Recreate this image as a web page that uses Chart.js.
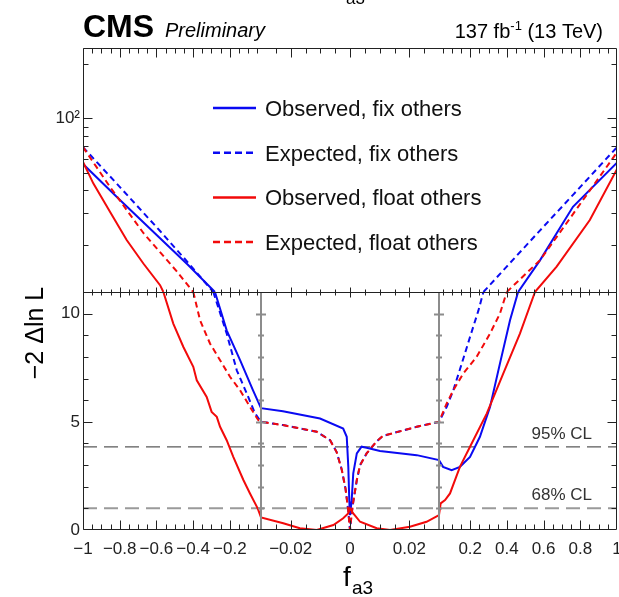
<!DOCTYPE html>
<html>
<head>
<meta charset="utf-8">
<script src="https://cdn.jsdelivr.net/npm/chart.js@4.4.1/dist/chart.umd.min.js"></script>
<style>
  html, body { margin: 0; padding: 0; background: #fff; }
  #wrap { position: relative; width: 619px; height: 597px; }
</style>
</head>
<body>
<div id="wrap"><canvas id="nll"></canvas></div>
<script>
// -2 Delta ln L scan versus f_a3, split x axis and split y axis

// Observed, fix others
const obsFixX = [-1, -0.8, -0.58, -0.43, -0.281, -0.217, -0.144, -0.074, -0.03,
  -0.0226, -0.0101, -0.0023, -0.0011, -0.00057, -0.00024, 0, 0.00057, 0.0011, 0.0023, 0.0039, 0.0056, 0.0101, 0.0225, 0.03,
  0.052, 0.099, 0.144, 0.199, 0.253, 0.308, 0.362, 0.417, 0.461, 0.581, 0.76, 1];
const obsFixY = [56, 35.6, 21.8, 15.6, 11, 9.23, 7.85, 6.46, 5.63,
  5.49, 5.15, 4.69, 4.31, 2.92, 1.38, 0.69, 1.38, 2.62, 3.54, 3.85, 3.8, 3.65, 3.46, 3.23,
  2.92, 2.77, 2.92, 3.38, 4.31, 5.69, 7.69, 9.69, 11, 16.5, 32.5, 57];

// Expected, fix others
const expFixX = [-1, -0.8, -0.58, -0.43, -0.29, -0.217, -0.162, -0.108, -0.063, -0.03,
  -0.0226, -0.0112, -0.0067, -0.0045, -0.0028, -0.0015, -0.0006, 0, 0.0006, 0.0011, 0.0023, 0.0034, 0.0056, 0.009, 0.0111, 0.0225, 0.03,
  0.072, 0.108, 0.154, 0.199, 0.245, 0.272, 0.399, 0.581, 0.763, 1];
const expFixY = [69.4, 41.9, 23.9, 16.1, 11, 9.08, 7.38, 6.32, 5.4, 5.0,
  4.85, 4.54, 4.15, 3.6, 2.8, 1.9, 0.9, 0, 0.8, 1.3, 2.31, 3.0, 3.54, 4.1, 4.35, 4.77, 5.0,
  5.69, 6.46, 7.69, 8.92, 10.15, 11, 15.2, 24.1, 38.1, 69.4];

// Observed, float others
const obsFloatX = [-1, -0.944, -0.853, -0.762, -0.671, -0.58, -0.562, -0.508, -0.453, -0.399, -0.38, -0.326, -0.299, -0.271,
  -0.253, -0.217, -0.181, -0.126, -0.09, -0.053, -0.046, -0.03,
  -0.0225, -0.0169, -0.0112, -0.0056, -0.0023, -0.0006, 0, 0.0011, 0.0034, 0.009, 0.0135, 0.0202, 0.0258, 0.03,
  0.039, 0.063, 0.09, 0.144, 0.199, 0.29, 0.38, 0.471, 0.553, 0.671, 0.852, 1];
const obsFloatY = [57.6, 43.8, 30.5, 21.3, 15.8, 12.0, 11, 9.54, 8.46, 7.54, 6.92, 6.15, 5.46, 5.23,
  4.77, 4.15, 3.38, 2.31, 1.69, 1.08, 0.95, 0.58,
  0.31, 0.08, 0, 0.23, 0.54, 0.77, 1.0, 0.77, 0.38, 0.08, 0, 0.15, 0.38, 0.69,
  1.23, 1.38, 1.69, 2.92, 3.85, 5.38, 7.23, 9.08, 11, 15.2, 27.5, 52.5];

// Expected, float others
const expFloatX = [-1, -0.853, -0.671, -0.489, -0.399, -0.362, -0.308, -0.253, -0.199, -0.144, -0.09, -0.045, -0.03,
  -0.0226, -0.0112, -0.0067, -0.0045, -0.0028, -0.0015, -0.0006, 0, 0.0006, 0.0011, 0.0023, 0.0034, 0.0056, 0.009, 0.0111, 0.0225, 0.03,
  0.072, 0.108, 0.162, 0.235, 0.308, 0.362, 0.399, 0.581, 0.763, 1];
const expFloatY = [69.4, 41.9, 23.3, 14.3, 11, 9.69, 8.62, 7.85, 7.08, 6.46, 5.69, 5.08, 5.0,
  4.85, 4.54, 4.15, 3.6, 2.8, 1.9, 0.9, 0, 0.8, 1.3, 2.31, 3.0, 3.54, 4.1, 4.35, 4.77, 5.0,
  5.85, 6.46, 7.23, 8.0, 9.08, 10.0, 11, 16.5, 29.9, 65];

const clLevels = [3.84, 1.0];
const clLabels = ['95% CL', '68% CL'];

const xTicks = [-1, -0.8, -0.6, -0.4, -0.2, -0.02, 0, 0.02, 0.2, 0.4, 0.6, 0.8, 1];
const yTicks = [0, 5, 10];
const yLogTicks = [100];

const SPLIT = 11;     // linear panel below, log panel above
const Y_TOP = 245;
const FONT = "'Liberation Sans', Arial, Helvetica, sans-serif";

// x axis made of three equal pieces: [-1,-0.03], [-0.03,0.03], [0.03,1]
function toUnit(v) {
  if (v < -0.03) return (v + 1) / 0.97;
  if (v <= 0.03) return 1 + (v + 0.03) / 0.06;
  return 2 + (v - 0.03) / 0.97;
}
function fromUnit(u) {
  if (u < 1) return -1 + u * 0.97;
  if (u <= 2) return -0.03 + (u - 1) * 0.06;
  return 0.03 + (u - 2) * 0.97;
}

class PiecewiseScale extends Chart.LinearScale {
  getPixelForValue(value) {
    return this.getPixelForDecimal(toUnit(value) / 3);
  }
  getValueForPixel(pixel) {
    return fromUnit(this.getDecimalForPixel(pixel) * 3);
  }
}
PiecewiseScale.id = 'piecewise';
PiecewiseScale.defaults = Chart.LinearScale.defaults;
Chart.register(PiecewiseScale);

function half(xs, ys, upper) {
  return xs.map(function(x, i) {
    const y = ys[i];
    const keep = upper ? y >= SPLIT : y <= SPLIT;
    return { x: x, y: keep ? y : null };
  });
}

const curves = [
  { label: 'Observed, fix others', xs: obsFixX, ys: obsFixY, color: '#0a0af2', dash: [] },
  { label: 'Expected, fix others', xs: expFixX, ys: expFixY, color: '#0a0af2', dash: [6, 4] },
  { label: 'Observed, float others', xs: obsFloatX, ys: obsFloatY, color: '#f20a0a', dash: [] },
  { label: 'Expected, float others', xs: expFloatX, ys: expFloatY, color: '#f20a0a', dash: [6, 4] }
];

const datasets = [];
curves.slice().reverse().forEach(function(c) {
  const rank = curves.indexOf(c);
  [false, true].forEach(function(upper) {
    datasets.push({
      label: c.label,
      data: half(c.xs, c.ys, upper),
      yAxisID: upper ? 'yLog' : 'y',
      borderColor: c.color,
      borderDash: c.dash,
      borderWidth: 2,
      pointRadius: 0,
      tension: 0,
      spanGaps: false,
      inLegend: !upper,
      rank: rank
    });
  });
});
clLevels.forEach(function(lvl, i) {
  datasets.push({
    label: clLabels[i],
    data: [{ x: -1, y: lvl }, { x: 1, y: lvl }],
    yAxisID: 'y',
    borderColor: i === 0 ? '#5a5a5a' : '#9a9a9a',
    borderWidth: i === 0 ? 1.3 : 2,
    borderDash: [14, 7],
    pointRadius: 0
  });
});

function minus(s) { return String(s).replace('-', '\u2212'); }

const decorations = {
  id: 'decorations',
  afterDraw(chart) {
    const ctx = chart.ctx;
    const a = chart.chartArea;
    const xs = chart.scales.x, yl = chart.scales.y, yg = chart.scales.yLog;
    const mid = Math.round(yl.top) + 0.5;
    const L = Math.round(a.left) + 0.5, R = Math.round(a.right) - 0.5;
    const T = Math.round(a.top) + 0.5, B = Math.round(a.bottom) - 0.5;
    ctx.save();

    // separators of the lower panel
    ctx.strokeStyle = '#8c8c8c';
    ctx.lineWidth = 2;
    ctx.beginPath();
    [-0.03, 0.03].forEach(function(v) {
      const px = Math.round(xs.getPixelForValue(v));
      ctx.moveTo(px, mid); ctx.lineTo(px, B);
      for (let k = 1; k <= 10; k++) {
        const py = Math.round(yl.getPixelForValue(k)) + 0.5;
        const len = k % 5 === 0 ? 5 : 3;
        ctx.moveTo(px - len, py); ctx.lineTo(px + len, py);
      }
    });
    ctx.stroke();

    // frame
    ctx.strokeStyle = '#222';
    ctx.lineWidth = 1;
    ctx.beginPath();
    ctx.rect(L, T, R - L, B - T);
    ctx.moveTo(L, mid); ctx.lineTo(R, mid);

    // x ticks
    const xt = [];
    for (let k = 0; k < 20; k++) xt.push([-1 + k * 0.05, k % 4 === 0]);
    for (let m = -5; m <= 5; m++) xt.push([m * 0.005, m % 4 === 0]);
    for (let k = 1; k < 20; k++) xt.push([k * 0.05, k % 4 === 0]);
    xt.forEach(function(t) {
      const px = Math.round(xs.getPixelForValue(t[0])) + 0.5;
      const len = t[1] ? 9 : 5;
      ctx.moveTo(px, B); ctx.lineTo(px, B - len);
      ctx.moveTo(px, T); ctx.lineTo(px, T + len);
      const h = t[1] ? 5 : 3;
      ctx.moveTo(px, mid - h); ctx.lineTo(px, mid + h);
    });

    // y ticks, lower linear panel
    for (let k = 1; k <= 10; k++) {
      const py = Math.round(yl.getPixelForValue(k)) + 0.5;
      const len = k % 5 === 0 ? 9 : 5;
      ctx.moveTo(L, py); ctx.lineTo(L + len, py);
      ctx.moveTo(R, py); ctx.lineTo(R - len, py);
    }
    // y ticks, upper log panel
    [20, 30, 40, 50, 60, 70, 80, 90, 100, 200].forEach(function(v) {
      const py = Math.round(yg.getPixelForValue(v)) + 0.5;
      const len = v === 100 ? 9 : 5;
      ctx.moveTo(L, py); ctx.lineTo(L + len, py);
      ctx.moveTo(R, py); ctx.lineTo(R - len, py);
    });
    ctx.stroke();

    // CL labels
    ctx.fillStyle = '#333';
    ctx.font = '17px ' + FONT;
    ctx.textAlign = 'right';
    ctx.textBaseline = 'alphabetic';
    clLevels.forEach(function(lvl, i) {
      ctx.fillText(clLabels[i], 592, yl.getPixelForValue(lvl) - 8);
    });

    // legend
    const items = chart.data.datasets.filter(function(d) { return d.inLegend; })
      .sort(function(p, q) { return p.rank - q.rank; });
    ctx.textAlign = 'left';
    ctx.textBaseline = 'middle';
    ctx.font = '22px ' + FONT;
    items.forEach(function(d, i) {
      const y = 108 + i * 44.7;
      ctx.strokeStyle = d.borderColor;
      ctx.lineWidth = 2.5;
      ctx.setLineDash(d.borderDash.length ? [7, 4] : []);
      ctx.beginPath(); ctx.moveTo(213, y); ctx.lineTo(256, y); ctx.stroke();
      ctx.setLineDash([]);
      ctx.fillStyle = '#111';
      ctx.fillText(d.label, 265, y + 2);
    });

    // header
    ctx.fillStyle = '#000';
    ctx.textBaseline = 'alphabetic';
    ctx.font = 'bold 32px ' + FONT;
    ctx.fillText('CMS', 83, 37);
    ctx.font = 'italic 20px ' + FONT;
    ctx.fillText('Preliminary', 165, 37);
    ctx.font = '17px ' + FONT;
    ctx.fillText('a3', 346, 4);

    ctx.textAlign = 'right';
    ctx.font = '20px ' + FONT;
    const tail = ' (13 TeV)';
    let x = 603;
    ctx.fillText(tail, x, 38);
    x -= ctx.measureText(tail).width;
    ctx.font = '13px ' + FONT;
    ctx.fillText('-1', x, 30);
    x -= ctx.measureText('-1').width;
    ctx.font = '20px ' + FONT;
    ctx.fillText('137 fb', x, 38);

    // axis titles
    ctx.textAlign = 'left';
    ctx.font = '28px ' + FONT;
    ctx.fillText('f', 343, 586);
    ctx.font = '19px ' + FONT;
    ctx.fillText('a3', 352, 594);

    ctx.translate(36, 333);
    ctx.rotate(-Math.PI / 2);
    ctx.textAlign = 'center';
    ctx.textBaseline = 'middle';
    ctx.font = '25px ' + FONT;
    ctx.fillText('\u22122 \u0394ln L', 0, 0);
    ctx.restore();
  }
};

Chart.defaults.font.family = FONT;
Chart.defaults.color = '#222';

new Chart(document.getElementById('nll'), {
  type: 'line',
  data: { datasets: datasets },
  options: {
    responsive: true,
    maintainAspectRatio: false,
    animation: false,
    layout: { padding: { top: 48, right: 2, left: 0, bottom: 0 } },
    plugins: { legend: { display: false }, tooltip: { enabled: false } },
    scales: {
      x: {
        type: 'piecewise',
        min: -1,
        max: 1,
        grid: { display: false, drawTicks: false },
        border: { display: false },
        afterFit: function(s) { s.height = 67; s.paddingLeft = 0; s.paddingRight = 0; },
        afterBuildTicks: function(s) { s.ticks = xTicks.map(function(v) { return { value: v }; }); },
        ticks: {
          autoSkip: false,
          maxRotation: 0,
          minRotation: 0,
          padding: 9,
          font: { size: 17 },
          color: '#222',
          callback: function(v) { return minus(v); }
        }
      },
      y: {
        type: 'linear',
        position: 'left',
        stack: 'nll',
        stackWeight: 238,
        min: 0,
        max: SPLIT,
        grid: { display: false, drawTicks: false },
        border: { display: false },
        afterFit: function(s) { s.width = 83; s.paddingTop = 0; s.paddingBottom = 0; },
        afterBuildTicks: function(s) { s.ticks = yTicks.map(function(v) { return { value: v }; }); },
        ticks: { padding: 3, font: { size: 17 }, color: '#222' }
      },
      yLog: {
        type: 'logarithmic',
        position: 'left',
        stack: 'nll',
        stackWeight: 244,
        min: SPLIT,
        max: Y_TOP,
        grid: { display: false, drawTicks: false },
        border: { display: false },
        afterFit: function(s) { s.width = 83; s.paddingTop = 0; s.paddingBottom = 0; },
        afterBuildTicks: function(s) { s.ticks = yLogTicks.map(function(v) { return { value: v }; }); },
        ticks: {
          padding: 3,
          font: { size: 17 },
          color: '#222',
          callback: function(v) { return v === 100 ? '10\u00b2' : ''; }
        }
      }
    }
  },
  plugins: [decorations]
});
</script>
</body>
</html>
